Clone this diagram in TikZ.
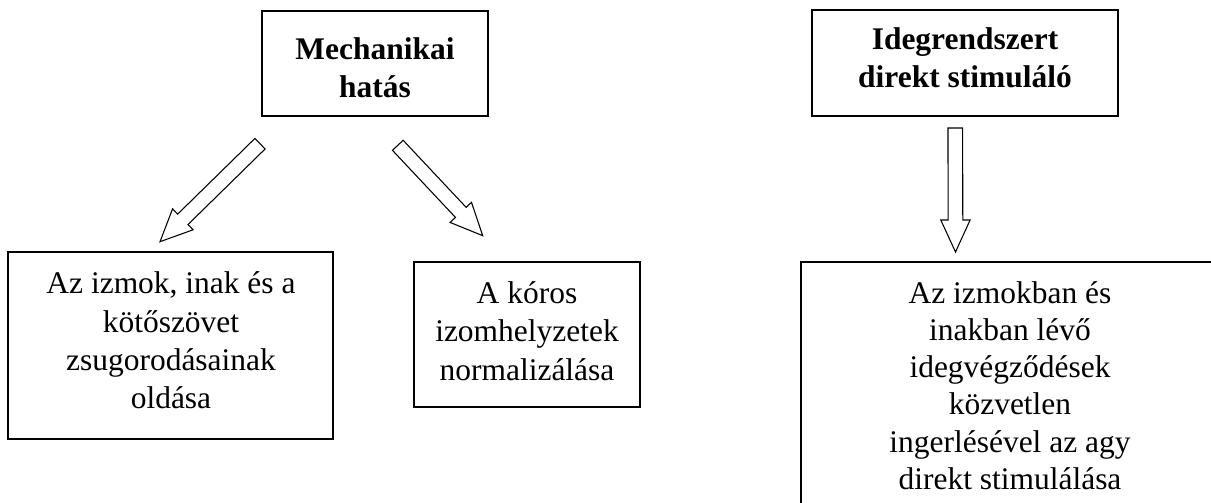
\documentclass[tikz,border=0pt]{standalone}
\usepackage{fontspec}
\setmainfont{Liberation Serif}
\usetikzlibrary{calc}
\newcommand\myblockarrow[2]{%
  \coordinate (q) at ($(#2)!24pt!(#1)$);
  \draw[blockarrow] ($(#1)!5.5pt!90:(#2)$) -- ($(q)!5.5pt!90:(#2)$) -- ($(q)!11pt!90:(#2)$) -- (#2)
    -- ($(q)!11pt!-90:(#2)$) -- ($(q)!5.5pt!-90:(#2)$) -- ($(#1)!5.5pt!-90:(#2)$) -- cycle;}
\begin{document}
\begin{tikzpicture}[x=0.75pt,y=-0.75pt,
  box/.style={draw, line width=1pt, rectangle, inner sep=0pt},
  txt/.style={align=center, inner sep=0pt, font=\fontsize{23.6pt}{28.7pt}\selectfont},
  ttl/.style={align=center, inner sep=0pt, font=\fontsize{23.6pt}{28.2pt}\selectfont\bfseries},
  blockarrow/.style={draw, line width=0.8pt, fill=white, line join=miter}]
\useasboundingbox (0,0) rectangle (1211,503);
\fill[white] (0,0) rectangle (1211,503);
\clip (0,0) rectangle (1211,503);
% boxes
\node[box, minimum width=226*0.75pt, minimum height=105*0.75pt] (b1) at (375,63.5) {};
\node[box, minimum width=306*0.75pt, minimum height=106*0.75pt] (b2) at (965,63) {};
\node[box, minimum width=325*0.75pt, minimum height=187*0.75pt] (b3) at (170.5,345.5) {};
\node[box, minimum width=226*0.75pt, minimum height=145*0.75pt] (b4) at (527,334.5) {};
\node[box, minimum width=418*0.75pt, minimum height=298*0.75pt] (b5) at (1010,411) {};
% texts
\node[ttl] (t1) at (375,68) {Mechanikai\\hatás};
\node[ttl] (t2) at (965,58) {Idegrendszert\\direkt stimuláló};
\node[txt] (t3) at (171,340.5) {Az izmok, inak és a\\kötőszövet\\zsugorodásainak\\oldása};
\node[txt] (t4) at (527,331) {A kóros\\izomhelyzetek\\normalizálása};
\node[txt, font=\fontsize{23.6pt}{27.9pt}\selectfont] (t5) at (1010,385.5) {Az izmokban és\\inakban lévő\\idegvégződések\\közvetlen\\ingerlésével az agy\\direkt stimulálása};
% arrows
\coordinate (a1t) at (260,143.7);
\coordinate (a1p) at (160,241.7);
\coordinate (a2t) at (397.8,145.3);
\coordinate (a2p) at (482.7,235.7);
\coordinate (a3t) at (955.3,128);
\coordinate (a3p) at (955.5,252);
\myblockarrow{a1t}{a1p}
\myblockarrow{a2t}{a2p}
\myblockarrow{a3t}{a3p}
\end{tikzpicture}
\end{document}
